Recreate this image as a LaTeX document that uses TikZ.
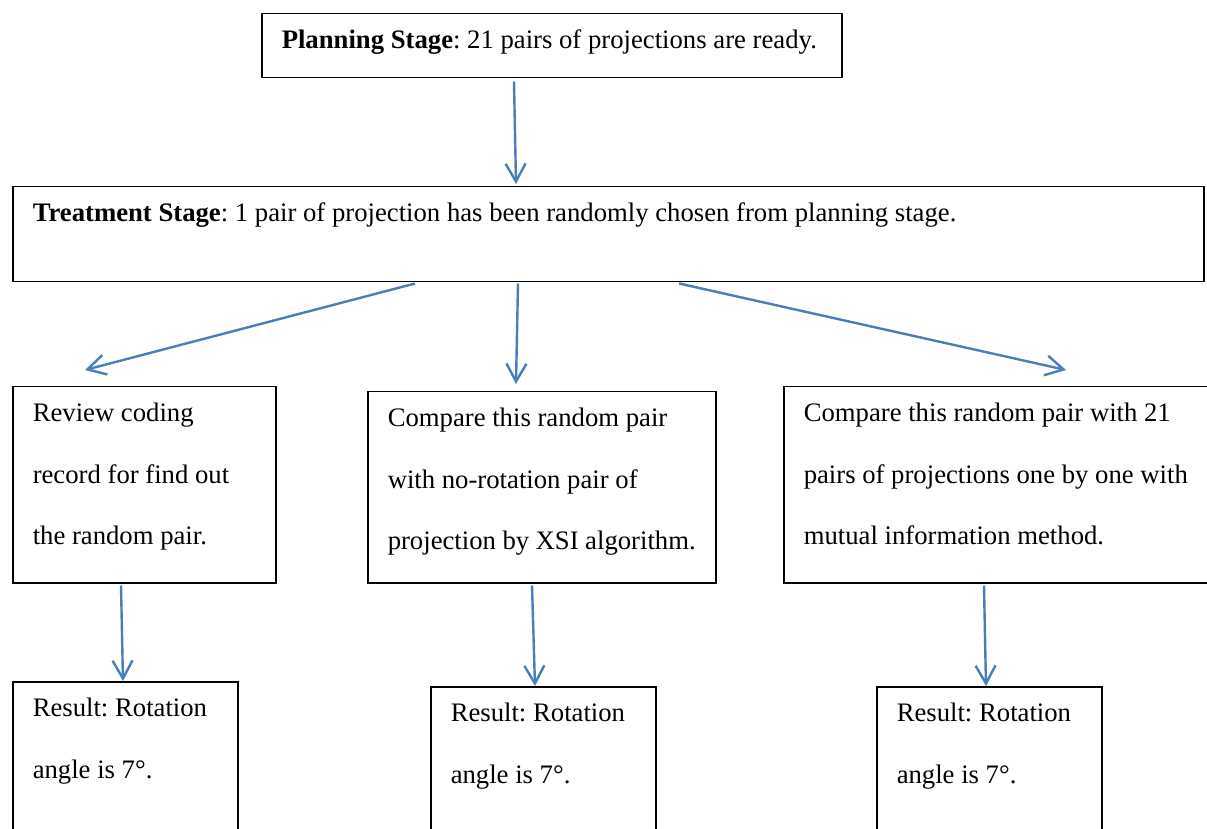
\documentclass[tikz,border=0pt]{standalone}
\usepackage{fontspec}
\setmainfont{Liberation Serif}
\usetikzlibrary{arrows.meta, calc}
\definecolor{arrowblue}{RGB}{74,126,187}

\begin{document}
\frenchspacing
\begin{tikzpicture}[x=0.5pt, y=-0.5pt,
  box/.style={draw, line width=0.75pt, anchor=north west, align=flush left, inner xsep=10pt, inner ysep=0pt,
    text height=17.5pt, font=\fontsize{13.35}{30.75}\selectfont},
  flow/.style={draw=arrowblue, line width=1.2pt, -{Straight Barb[length=9pt,width=10pt]}}]
	\useasboundingbox (0,0) rectangle (1207,829);
	\clip (0,0) rectangle (1207,829);
	\node[box, text width=270pt, text depth=14.5pt] (plan) at (261,13)
	  {\textbf{Planning Stage}: 21 pairs of projections are ready.};
	\node[box, text width=575.5pt, text depth=30pt] (treat) at (12,186)
	  {\textbf{Treatment Stage}: 1 pair of projection has been randomly chosen from planning stage.};
	\node[box, text width=111.5pt, text depth=80.5pt] (review) at (12,386)
	  {Review coding\\record for find out\\the random pair.};
	\node[box, text width=154pt, text depth=78pt] (xsi) at (367,391)
	  {Compare this random pair\\with no-rotation pair of\\projection by XSI algorithm.};
	\node[box, text width=200pt, text depth=80.5pt] (mutual) at (783,386)
	  {Compare this random pair with 21\\pairs of projections one by one with\\mutual information method.};
	\node[box, text width=92.5pt, text depth=67.5pt] (res1) at (12,681)
	  {Result: Rotation\\angle is 7°.};
	\node[box, text width=92.5pt, text depth=67.5pt] (res2) at (430,686)
	  {Result: Rotation\\angle is 7°.};
	\node[box, text width=92.5pt, text depth=67.5pt] (res3) at (876,686)
	  {Result: Rotation\\angle is 7°.};
	\draw[flow] ($(plan.south west)+(253,3)$) -- ($(treat.north west)+(504,-2)$);
	\draw[flow] ($(treat.south west)+(403,1)$) -- ($(review.north west)+(73,-16)$);
	\draw[flow] ($(treat.south west)+(506,1)$) -- ($(xsi.north west)+(149,-7)$);
	\draw[flow] ($(treat.south west)+(667,1)$) -- ($(mutual.north west)+(283,-16)$);
	\draw[flow] ($(review.south west)+(109,2)$) -- ($(res1.north west)+(111,0)$);
	\draw[flow] ($(xsi.south west)+(165,2)$) -- ($(res2.north west)+(105,0)$);
	\draw[flow] ($(mutual.south west)+(201,2)$) -- ($(res3.north west)+(110,0)$);
\end{tikzpicture}
\end{document}
